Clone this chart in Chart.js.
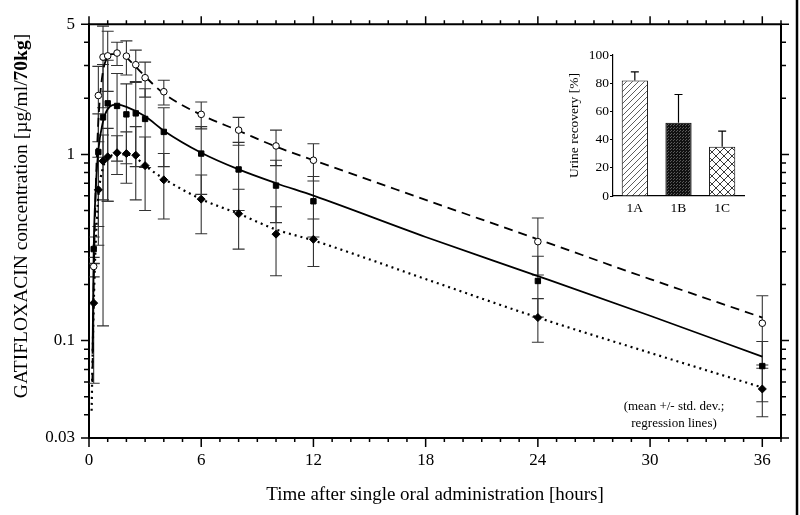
<!DOCTYPE html>
<html>
<head>
<meta charset="utf-8">
<script src="https://cdn.jsdelivr.net/npm/chart.js@4.4.1/dist/chart.umd.min.js"></script>
<style>
  body { margin: 0; background: #fff; }
  #wrap { position: relative; width: 800px; height: 515px; }
  #main { position: absolute; left: 0; top: 0; }
  #inset { position: absolute; left: 560px; top: 40px; }
</style>
</head>
<body>
<div id="wrap">
  <canvas id="main" width="800" height="515"></canvas>
  <canvas id="inset" width="190" height="190"></canvas>
</div>
<script>
// sampling times [h]
var times = [0.25, 0.5, 0.75, 1, 1.5, 2, 2.5, 3, 4, 6, 8, 10, 12, 24, 36];

// 1A (open circles)
var meanA = [0.25, 2.07, 3.33, 3.38, 3.5, 3.37, 3.03, 2.58, 2.17, 1.64, 1.35, 1.11, 0.93, 0.34, 0.124];
var sdA   = [0.03, 0.9, 1.55, 1.2, 0.5, 0.7, 0.6, 0.55, 0.33, 0.27, 0.23, 0.24, 0.21, 0.115, 0.05];
// 1B (filled squares)
var meanB = [0.31, 1.03, 1.58, 1.88, 1.82, 1.64, 1.66, 1.55, 1.32, 1.01, 0.83, 0.68, 0.56, 0.209, 0.073];
var sdB   = [0.05, 0.62, 1.46, 1.32, 0.9, 0.75, 0.8, 0.7, 0.46, 0.4, 0.33, 0.25, 0.2, 0.075, 0.026];
// 1C (filled diamonds)
var meanC = [0.159, 0.645, 0.92, 0.97, 1.02, 1.01, 0.99, 0.87, 0.73, 0.575, 0.48, 0.373, 0.35, 0.133, 0.055];
var sdC   = [0.1, 0.32, 0.35, 0.41, 0.24, 0.31, 0.42, 0.37, 0.28, 0.2, 0.17, 0.15, 0.1, 0.035, 0.016];

// regression lines
var fitTimesA = [0.18, 0.25, 0.33, 0.42, 0.5, 0.6, 0.75, 0.9, 1.2, 1.5, 2, 2.5, 3, 4, 6, 8, 10, 12, 18, 24, 30, 36];
var fitA      = [0.06, 0.2, 0.5, 1.0, 1.5, 2.1, 2.8, 3.2, 3.45, 3.45, 3.3, 2.95, 2.62, 2.12, 1.63, 1.34, 1.1, 0.93, 0.57, 0.35, 0.214, 0.133];
var fitTimesB = [0.19, 0.25, 0.35, 0.5, 0.75, 1, 1.5, 2, 3, 4, 6, 8, 10, 12, 18, 24, 30, 36];
var fitB      = [0.085, 0.3, 0.62, 1.05, 1.5, 1.75, 1.85, 1.8, 1.6, 1.34, 1.02, 0.83, 0.7, 0.6, 0.36, 0.222, 0.136, 0.082];
var fitTimesC = [0.14, 0.2, 0.25, 0.33, 0.42, 0.5, 0.75, 1, 1.5, 2, 2.5, 3, 4, 6, 8, 10, 12, 18, 24, 30, 36];
var fitC      = [0.042, 0.09, 0.15, 0.28, 0.45, 0.6, 0.85, 0.95, 1.0, 1.0, 0.96, 0.87, 0.74, 0.575, 0.48, 0.395, 0.345, 0.214, 0.133, 0.086, 0.056];

var xTicks = [0, 6, 12, 18, 24, 30, 36];
var yTicks = [0.03, 0.1, 1, 5];
var yMinor = [0.04, 0.05, 0.06, 0.07, 0.08, 0.09, 0.2, 0.3, 0.4, 0.5, 0.6, 0.7, 0.8, 0.9, 2, 3, 4];

// inset: urine recovery
var urineLabels = ['1A', '1B', '1C'];
var urineMean = [82, 52, 35];
var urineSd = [6, 20, 11];
var urineTicks = [0, 20, 40, 60, 80, 100];

Chart.defaults.font.family = "'Liberation Serif', 'Times New Roman', serif";
Chart.defaults.color = '#000';

function pts(xs, ys) {
    return xs.map(function (t, i) { return { x: t, y: ys[i] }; });
}

var frame = {
    id: 'frame',
    beforeDatasetsDraw: function (chart) {
        var ctx = chart.ctx, xs = chart.scales.x, ys = chart.scales.y, a = chart.chartArea;
        ctx.save();
        ctx.beginPath();
        ctx.rect(a.left, a.top - 2, a.right - a.left, a.bottom - a.top + 2);
        ctx.clip();
        ctx.strokeStyle = '#333';
        ctx.lineWidth = 1.1;
        chart.data.datasets.forEach(function (ds) {
            if (!ds.sd) return;
            ds.data.forEach(function (p, i) {
                var x = xs.getPixelForValue(p.x);
                var top = ys.getPixelForValue(p.y + ds.sd[i]);
                var lo = p.y - ds.sd[i];
                var bot = ys.getPixelForValue(lo > 0.03 ? lo : 0.03);
                ctx.beginPath();
                ctx.moveTo(x, top); ctx.lineTo(x, bot);
                ctx.moveTo(x - 6, top); ctx.lineTo(x + 6, top);
                if (lo > 0.03) { ctx.moveTo(x - 6, bot); ctx.lineTo(x + 6, bot); }
                ctx.stroke();
            });
        });
        ctx.restore();
    },
    afterDraw: function (chart) {
        var ctx = chart.ctx, xs = chart.scales.x, ys = chart.scales.y, a = chart.chartArea;
        ctx.save();
        ctx.strokeStyle = '#000';
        ctx.lineWidth = 2;
        ctx.beginPath();
        ctx.moveTo(a.left, a.top); ctx.lineTo(a.right, a.top); ctx.lineTo(a.right, a.bottom);
        ctx.stroke();
        ctx.lineWidth = 1.5;
        ctx.beginPath();
        for (var h = 0; h <= 37; h++) {
            var x = xs.getPixelForValue(h);
            var big = h % 6 === 0;
            ctx.moveTo(x, a.bottom); ctx.lineTo(x, a.bottom + (big ? 9 : 4));
            ctx.moveTo(x, a.top); ctx.lineTo(x, a.top - (big ? 8 : 4));
        }
        yTicks.concat(yMinor).forEach(function (v) {
            var y = ys.getPixelForValue(v);
            var len = yTicks.indexOf(v) >= 0 ? 8 : 5;
            ctx.moveTo(a.left, y); ctx.lineTo(a.left - len, y);
            ctx.moveTo(a.right, y); ctx.lineTo(a.right + len, y);
        });
        ctx.stroke();

        // outer frame edge on the right
        ctx.lineWidth = 2.5;
        ctx.beginPath();
        ctx.moveTo(797, 0); ctx.lineTo(797, 515);
        ctx.stroke();

        ctx.fillStyle = '#000';
        // x title
        ctx.font = "19px 'Liberation Serif'";
        ctx.textAlign = 'center';
        ctx.textBaseline = 'middle';
        ctx.fillText('Time after single oral administration [hours]', (a.left + a.right) / 2, 495);

        // y title with bold part
        var p1 = 'GATIFLOXACIN concentration [\u00b5g/ml/', p2 = '70kg', p3 = ']';
        var fN = "19.5px 'Liberation Serif'", fB = "bold 19.5px 'Liberation Serif'";
        ctx.font = fN; var w1 = ctx.measureText(p1).width, w3 = ctx.measureText(p3).width;
        ctx.font = fB; var w2 = ctx.measureText(p2).width;
        var total = w1 + w2 + w3;
        ctx.translate(22, 216);
        ctx.rotate(-Math.PI / 2);
        ctx.textAlign = 'left';
        var sx = -total / 2;
        ctx.font = fN; ctx.fillText(p1, sx, 0);
        ctx.font = fB; ctx.fillText(p2, sx + w1, 0);
        ctx.font = fN; ctx.fillText(p3, sx + w1 + w2, 0);
        ctx.setTransform(1, 0, 0, 1, 0, 0);

        // note
        ctx.font = "13px 'Liberation Serif'";
        ctx.textAlign = 'center';
        ctx.fillText('(mean +/- std. dev.;', 674, 407);
        ctx.fillText('regression lines)', 674, 424);
        ctx.restore();
    }
};

new Chart(document.getElementById('main'), {
    type: 'scatter',
    data: {
        datasets: [
            { data: pts(times, meanA), sd: sdA, pointStyle: 'circle', pointRadius: 3.3, pointBackgroundColor: '#fff', pointBorderColor: '#000', pointBorderWidth: 1 },
            { data: pts(times, meanB), sd: sdB, pointStyle: 'rect', pointRadius: 3.8, pointBackgroundColor: '#000', pointBorderColor: '#000', pointBorderWidth: 1 },
            { data: pts(times, meanC), sd: sdC, pointStyle: 'rectRot', pointRadius: 4, pointBackgroundColor: '#000', pointBorderColor: '#000', pointBorderWidth: 1 },
            { data: pts(fitTimesA, fitA), showLine: true, pointRadius: 0, borderColor: '#000', borderWidth: 1.8, borderDash: [9, 6], cubicInterpolationMode: 'monotone' },
            { data: pts(fitTimesB, fitB), showLine: true, pointRadius: 0, borderColor: '#000', borderWidth: 1.8, cubicInterpolationMode: 'monotone' },
            { data: pts(fitTimesC, fitC), showLine: true, pointRadius: 0, borderColor: '#000', borderWidth: 2.2, borderDash: [2, 4], cubicInterpolationMode: 'monotone' }
        ]
    },
    options: {
        responsive: false,
        animation: false,
        layout: { padding: { top: 20, right: 19, left: 0, bottom: 0 } },
        plugins: { legend: { display: false }, tooltip: { enabled: false } },
        scales: {
            x: {
                type: 'linear', min: 0, max: 37,
                afterBuildTicks: function (s) { s.ticks = xTicks.map(function (v) { return { value: v }; }); },
                afterFit: function (s) { s.height = 77; },
                grid: { display: false, drawTicks: false },
                border: { display: true, color: '#000', width: 2 },
                ticks: { font: { size: 17 }, padding: 12, maxRotation: 0 }
            },
            y: {
                type: 'logarithmic', min: 0.03, max: 5,
                afterBuildTicks: function (s) { s.ticks = yTicks.map(function (v) { return { value: v }; }); },
                afterFit: function (s) { s.width = 89; },
                grid: { display: false, drawTicks: false },
                border: { display: true, color: '#000', width: 2 },
                ticks: { font: { size: 17 }, padding: 14, callback: function (v) { return String(v); } }
            }
        }
    },
    plugins: [frame]
});

function pattern(kind) {
    var c = document.createElement('canvas');
    var g = c.getContext('2d');
    if (kind === 'diag') {
        c.width = 6; c.height = 6;
        g.fillStyle = '#fff'; g.fillRect(0, 0, 6, 6);
        g.strokeStyle = '#333'; g.lineWidth = 0.8;
        g.beginPath();
        g.moveTo(-1, 7); g.lineTo(7, -1);
        g.moveTo(-1, 1); g.lineTo(1, -1);
        g.moveTo(5, 7); g.lineTo(7, 5);
        g.stroke();
    } else if (kind === 'dark') {
        c.width = 3; c.height = 3;
        g.fillStyle = '#111'; g.fillRect(0, 0, 3, 3);
        g.fillStyle = '#5a5a5a'; g.fillRect(0, 0, 1, 1);
        g.fillRect(2, 1, 1, 1);
    } else {
        c.width = 8; c.height = 8;
        g.fillStyle = '#fff'; g.fillRect(0, 0, 8, 8);
        g.strokeStyle = '#222'; g.lineWidth = 0.9;
        g.beginPath();
        g.moveTo(0, 0); g.lineTo(8, 8);
        g.moveTo(0, 8); g.lineTo(8, 0);
        g.stroke();
    }
    return g.createPattern(c, 'repeat');
}

var barErr = {
    id: 'barErr',
    afterDatasetsDraw: function (chart) {
        var ctx = chart.ctx, ys = chart.scales.y;
        var ds = chart.data.datasets[0];
        var meta = chart.getDatasetMeta(0);
        ctx.save();
        ctx.strokeStyle = '#000';
        ctx.lineWidth = 1.2;
        meta.data.forEach(function (bar, i) {
            var yb = ys.getPixelForValue(ds.data[i]);
            var yt = ys.getPixelForValue(ds.data[i] + ds.err[i]);
            ctx.beginPath();
            ctx.moveTo(bar.x, yb); ctx.lineTo(bar.x, yt);
            ctx.moveTo(bar.x - 4, yt); ctx.lineTo(bar.x + 4, yt);
            ctx.stroke();
        });
        ctx.restore();
    }
};

new Chart(document.getElementById('inset'), {
    type: 'bar',
    data: {
        labels: urineLabels,
        datasets: [{
            data: urineMean,
            err: urineSd,
            backgroundColor: [pattern('diag'), pattern('dark'), pattern('cross')],
            borderColor: '#000',
            borderWidth: 1,
            barPercentage: 0.6,
            categoryPercentage: 1
        }]
    },
    options: {
        responsive: false,
        animation: false,
        layout: { padding: { top: 15, right: 6, left: 0, bottom: 0 } },
        plugins: { legend: { display: false }, tooltip: { enabled: false } },
        scales: {
            x: {
                afterFit: function (s) { s.height = 34; },
                grid: { display: false, drawTicks: false },
                border: { display: true, color: '#000', width: 1.2 },
                ticks: { font: { size: 13.5 }, padding: 4 }
            },
            y: {
                min: 0, max: 100,
                afterBuildTicks: function (s) { s.ticks = urineTicks.map(function (v) { return { value: v }; }); },
                afterFit: function (s) { s.width = 53; },
                grid: { display: true, drawOnChartArea: false, drawTicks: true, tickLength: 3, color: '#000' },
                border: { display: true, color: '#000', width: 1.2 },
                ticks: { font: { size: 13.5 }, padding: 1 },
                title: { display: true, text: 'Urine recovery [%]', font: { size: 13.5 }, padding: { top: 6, bottom: 0 } }
            }
        }
    },
    plugins: [barErr]
});
</script>
</body>
</html>
